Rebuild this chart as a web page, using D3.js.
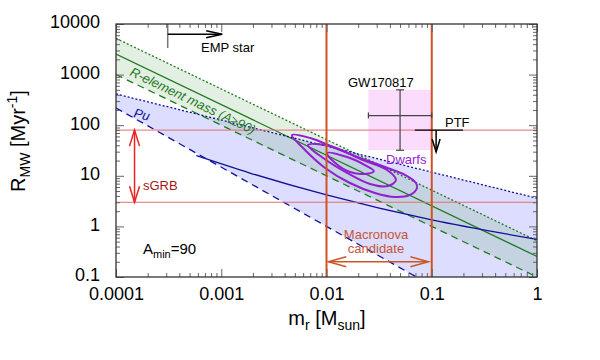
<!DOCTYPE html>
<html>
<head>
<meta charset="utf-8">
<script src="https://cdn.jsdelivr.net/npm/d3@7"></script>
<style>
body { margin: 0; background: #fff; }
text { font-family: "Liberation Sans", Arial, Helvetica, sans-serif; }
</style>
</head>
<body>
<svg id="chart" width="600" height="360"></svg>
<script>
// axis ticks
const xMajor = [1e-4, 1e-3, 1e-2, 1e-1, 1];
const xLabels = ['0.0001', '0.001', '0.01', '0.1', '1'];
const yMajor = [0.1, 1, 10, 100, 1000, 10000];
const yLabels = ['0.1', '1', '10', '100', '1000', '10000'];

// r-element mass band (R vs m_r), read at both ends of the x range
const mEnds = [1e-4, 1];
const relUpper = [5200, 0.52];
const relMid = [2550, 0.255];
const relLower = [1000, 0.1];

// Pu band
const puUpper = [414, 3.6];
const puLowerM = [1e-4, 0.0716];
const puLowerR = [219, 0.1];
const puMidM = [0.00058, 0.00187, 0.01, 0.1, 1];
const puMidR = [25, 11.35, 4.18, 1.34, 0.556];

// observational limits
const ptfRate = 80;
const sgrbRate = 3;
const macronovaRange = [0.01, 0.1];
const gwM = [0.025, 0.05, 0.1];   // low, mid, high
const gwR = [32, 155, 500];

// dwarf galaxy contours [m_r, R]
const dwarfOuter = [[0.0047, 64], [0.0070, 55.8], [0.0121, 35.4], [0.0208, 22.5], [0.036, 14.9],
    [0.0557, 10.4], [0.0708, 7.2], [0.0724, 5.74], [0.0621, 4.18], [0.0448, 3.81],
    [0.0289, 4.57], [0.0167, 7.21], [0.0097, 14.3], [0.00625, 32.4]];
const dwarfMiddle = [[0.00667, 40.6], [0.0108, 38.8], [0.0222, 20.5], [0.0376, 13.0], [0.0457, 8.26],
    [0.0384, 6.28], [0.0259, 6.89], [0.0157, 11.4], [0.0093, 22.5]];
const dwarfInner = [[0.0101, 28.2], [0.0157, 23.5], [0.0232, 16.3], [0.0282, 12.4], [0.0232, 10.9],
    [0.0167, 11.9], [0.0121, 17.9]];

const L = 116, R = 537, T = 24, B = 277;

const svg = d3.select('#chart');
svg.append('rect').attr('width', 600).attr('height', 360).attr('fill', '#fff');

const x = d3.scaleLog().domain([1e-4, 1]).range([L, R]);
const y = d3.scaleLog().domain([0.1, 1e4]).range([B, T]);

svg.append('clipPath').attr('id', 'plotclip')
    .append('rect').attr('x', L).attr('y', T).attr('width', R - L).attr('height', B - T);

const plot = svg.append('g').attr('clip-path', 'url(#plotclip)');

const line = d3.line().x(d => x(d[0])).y(d => y(d[1]));
const zip = (ms, rs) => ms.map((m, i) => [m, rs[i]]);

// Pu band
const puBand = zip(mEnds, puUpper)
    .concat([[1, y.domain()[0]]])
    .concat(zip(puLowerM, puLowerR).reverse());
plot.append('path').attr('d', line(puBand) + 'Z')
    .attr('fill', 'rgb(120,120,255)').attr('fill-opacity', 0.25);

// r-element band
const relBand = zip(mEnds, relUpper).concat(zip(mEnds, relLower).reverse());
plot.append('path').attr('d', line(relBand) + 'Z')
    .attr('fill', 'rgb(60,150,60)').attr('fill-opacity', 0.15);

// GW170817 box
plot.append('rect')
    .attr('x', x(gwM[0])).attr('y', y(gwR[2]))
    .attr('width', x(gwM[2]) - x(gwM[0])).attr('height', y(gwR[0]) - y(gwR[2]))
    .attr('fill', '#fcdcfc');

const green = '#1f7a1f', blue = '#10109a';
function drawLine(pts, color, dash, w) {
    plot.append('path').attr('d', line(pts))
        .attr('fill', 'none').attr('stroke', color)
        .attr('stroke-width', w || 1.3)
        .attr('stroke-dasharray', dash || null);
}
drawLine(zip(mEnds, relUpper), green, '2,2');
drawLine(zip(mEnds, relMid), green);
drawLine(zip(mEnds, relLower), green, '7,5');
drawLine(zip(mEnds, puUpper), blue, '2,2');
drawLine(zip(puLowerM, puLowerR), blue, '7,5');
plot.append('path')
    .attr('d', d3.line().x(d => x(d[0])).y(d => y(d[1])).curve(d3.curveMonotoneX)(zip(puMidM, puMidR)))
    .attr('fill', 'none').attr('stroke', blue).attr('stroke-width', 1.3);

// dwarf contours
const closed = d3.line().x(d => x(d[0])).y(d => y(d[1])).curve(d3.curveCatmullRomClosed.alpha(0.5));
[dwarfOuter, dwarfMiddle, dwarfInner].forEach(c => {
    plot.append('path').attr('d', closed(c))
        .attr('fill', 'none').attr('stroke', '#9020d0').attr('stroke-width', 2);
});

// horizontal limit lines
[ptfRate, sgrbRate].forEach(v => {
    plot.append('line').attr('x1', L).attr('x2', R).attr('y1', y(v)).attr('y2', y(v))
        .attr('stroke', '#e07070').attr('stroke-width', 1);
});

// macronova vertical lines
macronovaRange.forEach(v => {
    plot.append('line').attr('x1', x(v)).attr('x2', x(v)).attr('y1', T).attr('y2', B)
        .attr('stroke', '#d35020').attr('stroke-width', 2);
});

// GW170817 error bars
const eb = plot.append('g').attr('stroke', '#444').attr('stroke-width', 1.2);
eb.append('line').attr('x1', x(gwM[0])).attr('x2', x(gwM[2])).attr('y1', y(gwR[1])).attr('y2', y(gwR[1]));
eb.append('line').attr('x1', x(gwM[1])).attr('x2', x(gwM[1])).attr('y1', y(gwR[0])).attr('y2', y(gwR[2]));
[gwM[0], gwM[2]].forEach(m => eb.append('line')
    .attr('x1', x(m)).attr('x2', x(m)).attr('y1', y(gwR[1]) - 3).attr('y2', y(gwR[1]) + 3));
[gwR[0], gwR[2]].forEach(r => eb.append('line')
    .attr('x1', x(gwM[1]) - 4).attr('x2', x(gwM[1]) + 4).attr('y1', y(r)).attr('y2', y(r)));

// arrows
function arrowHead(x1, y1, x2, y2, len, hw, color, w) {
    const a = Math.atan2(y2 - y1, x2 - x1);
    const bx = x2 - len * Math.cos(a), by = y2 - len * Math.sin(a);
    const px = -Math.sin(a) * hw, py = Math.cos(a) * hw;
    plot.append('path')
        .attr('d', `M${bx + px},${by + py}L${x2},${y2}L${bx - px},${by - py}`)
        .attr('fill', 'none').attr('stroke', color).attr('stroke-width', w);
}
function arrow(x1, y1, x2, y2, color, w, len, hw, both) {
    plot.append('line').attr('x1', x1).attr('y1', y1).attr('x2', x2).attr('y2', y2)
        .attr('stroke', color).attr('stroke-width', w);
    arrowHead(x1, y1, x2, y2, len, hw, color, w);
    if (both) arrowHead(x2, y2, x1, y1, len, hw, color, w);
}

// EMP star
plot.append('line').attr('x1', x(3.1e-4)).attr('x2', x(3.1e-4)).attr('y1', T).attr('y2', y(3360))
    .attr('stroke', '#777').attr('stroke-width', 1.5);
arrow(x(3.1e-4), y(6300), x(1.02e-3), y(6300), '#000', 1.5, 16, 3.5);

// sGRB
arrow(x(1.5e-4), y(ptfRate), x(1.5e-4), y(sgrbRate), '#ee2222', 1.5, 16, 5, true);

// PTF
plot.append('line').attr('x1', x(0.069)).attr('x2', x(0.198)).attr('y1', y(ptfRate)).attr('y2', y(ptfRate))
    .attr('stroke', '#000').attr('stroke-width', 1.3);
arrow(x(0.11), y(ptfRate), x(0.11), y(29.5), '#000', 1.5, 13, 4);

// macronova candidate
arrow(x(0.0104), y(0.2), x(0.093), y(0.2), '#c8582a', 1.5, 18, 5, true);

// labels
function label(txt, px, py, color, opts) {
    opts = opts || {};
    const t = svg.append('text').attr('x', px).attr('y', py)
        .attr('font-size', opts.size || 13).attr('fill', color)
        .attr('text-anchor', opts.anchor || 'start')
        .text(txt);
    if (opts.italic) t.attr('font-style', 'italic');
    if (opts.rotate) t.attr('transform', `rotate(${opts.rotate},${px},${py})`);
    return t;
}
label('EMP star', 201, 52, '#000');
label('GW170817', 348, 87, '#000');
label('PTF', 445, 127, '#000');
label('Dwarfs', 386, 164, '#9a20d8');
label('sGRB', 143, 190, '#a01818');
label('Macronova', 376, 239, '#c65535', {anchor: 'middle'});
label('candidate', 376, 253, '#c65535', {anchor: 'middle'});
label('R-element mass (A\u226590)', 129, 75, green, {italic: true, rotate: 25.7});
label('Pu', 133, 117, blue, {italic: true, rotate: 14});

const amin = svg.append('text').attr('x', 143).attr('y', 254).attr('font-size', 15).attr('fill', '#000');
amin.append('tspan').text('A');
amin.append('tspan').attr('font-size', 11).attr('dy', 4).text('min');
amin.append('tspan').attr('dy', -4).text('=90');

// axes
function axisG(tr, ax) {
    const g = svg.append('g').attr('transform', tr).call(ax);
    g.select('.domain').remove();
    g.selectAll('line').attr('stroke', '#666');
    g.attr('font-family', '"Liberation Sans", Arial, sans-serif').attr('font-size', 18);
    g.selectAll('text').attr('fill', '#000');
    return g;
}
const minorTicks = majors => {
    const out = [];
    majors.slice(0, -1).forEach(d => { for (let k = 2; k < 10; k++) out.push(d * k); });
    return out;
};
const xMinor = minorTicks(xMajor), yMinor = minorTicks(yMajor);

axisG(`translate(0,${B})`, d3.axisBottom(x).tickValues(xMajor).tickSize(-8).tickPadding(10)
    .tickFormat((d, i) => xLabels[i]));
axisG(`translate(0,${B})`, d3.axisBottom(x).tickValues(xMinor).tickSize(-4).tickFormat(''));
axisG(`translate(0,${T})`, d3.axisTop(x).tickValues(xMajor).tickSize(-8).tickFormat(''));
axisG(`translate(0,${T})`, d3.axisTop(x).tickValues(xMinor).tickSize(-4).tickFormat(''));
const yl = axisG(`translate(${L},0)`, d3.axisLeft(y).tickValues(yMajor).tickSize(-8).tickPadding(16)
    .tickFormat((d, i) => yLabels[i]));
yl.selectAll('text').attr('dy', '0.22em');
axisG(`translate(${L},0)`, d3.axisLeft(y).tickValues(yMinor).tickSize(-4).tickFormat(''));
axisG(`translate(${R},0)`, d3.axisRight(y).tickValues(yMajor).tickSize(-8).tickFormat(''));
axisG(`translate(${R},0)`, d3.axisRight(y).tickValues(yMinor).tickSize(-4).tickFormat(''));

svg.append('rect').attr('x', L).attr('y', T).attr('width', R - L).attr('height', B - T)
    .attr('fill', 'none').attr('stroke', '#333').attr('stroke-width', 1.3);

// axis titles
const xt = svg.append('text').attr('x', 327).attr('y', 325).attr('text-anchor', 'middle')
    .attr('font-size', 20).attr('fill', '#000');
xt.append('tspan').text('m');
xt.append('tspan').attr('font-size', 14).attr('dy', 5).text('r');
xt.append('tspan').attr('dy', -5).text(' [M');
xt.append('tspan').attr('font-size', 14).attr('dy', 5).text('sun');
xt.append('tspan').attr('dy', -5).text(']');

const yt = svg.append('text').attr('transform', 'translate(25,141) rotate(-90)')
    .attr('text-anchor', 'middle').attr('font-size', 20).attr('fill', '#000');
yt.append('tspan').text('R');
yt.append('tspan').attr('font-size', 14).attr('dy', 5).text('MW');
yt.append('tspan').attr('dy', -5).text(' [Myr');
yt.append('tspan').attr('font-size', 14).attr('dy', -8).text('-1');
yt.append('tspan').attr('dy', 8).text(']');
</script>
</body>
</html>
